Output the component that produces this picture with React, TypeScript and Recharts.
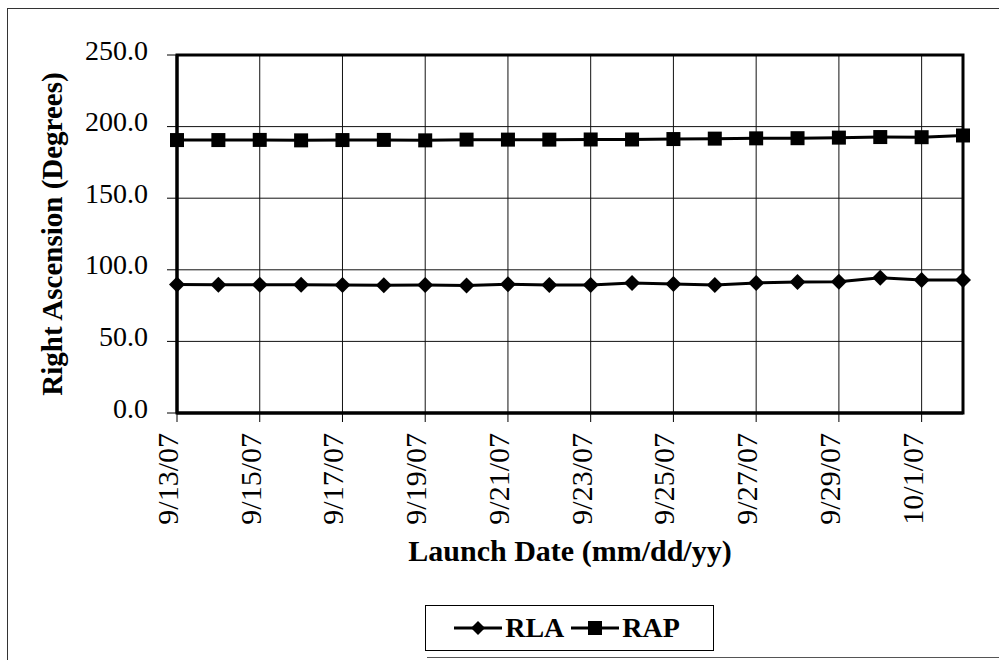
import { LineChart, Line, XAxis, YAxis, CartesianGrid, Legend, ReferenceArea } from "recharts";

const dates = [
  "9/13/07", "9/14/07", "9/15/07", "9/16/07", "9/17/07", "9/18/07", "9/19/07",
  "9/20/07", "9/21/07", "9/22/07", "9/23/07", "9/24/07", "9/25/07", "9/26/07",
  "9/27/07", "9/28/07", "9/29/07", "9/30/07", "10/1/07", "10/2/07",
];
const rla = [
  89.8, 89.5, 89.5, 89.6, 89.4, 89.2, 89.4, 89.0, 89.9, 89.4,
  89.4, 90.7, 90.0, 89.4, 90.8, 91.5, 91.7, 94.4, 92.8, 92.8,
];
const rap = [
  190.6, 190.6, 190.7, 190.4, 190.6, 190.7, 190.4, 190.9, 190.9, 190.9,
  191.0, 191.0, 191.3, 191.6, 191.8, 191.9, 192.3, 192.7, 192.6, 193.8,
];
const seriesOrder = ["RLA", "RAP"];
const labeledDates = dates.filter((_, i) => i % 2 === 0);
const yTicks = [0, 50, 100, 150, 200, 250];

const data = dates.map((d, i) => ({ date: d, RLA: rla[i], RAP: rap[i] }));

const FONT = "'Liberation Serif', 'Times New Roman', serif";

function Diamond(props: any) {
  const { cx, cy } = props;
  if (cx == null || cy == null) return null;
  const r = 8;
  return <path d={`M${cx},${cy - r}L${cx + r},${cy}L${cx},${cy + r}L${cx - r},${cy}Z`} fill="#000" />;
}

function Square(props: any) {
  const { cx, cy } = props;
  if (cx == null || cy == null) return null;
  const s = 14;
  return <rect x={cx - s / 2} y={cy - s / 2} width={s} height={s} fill="#000" />;
}

function XTick(props: any) {
  const { x, y, payload } = props;
  const ay = y + 9;
  return (
    <text x={x} y={ay} transform={`rotate(-90, ${x}, ${ay})`} textAnchor="end" dy={1}
      fontFamily={FONT} fontSize={30} fill="#000">
      {payload.value}
    </text>
  );
}

function YTick(props: any) {
  const { y, payload } = props;
  return (
    <text x={148} y={y - 5} textAnchor="end" dy="0.34em" fontFamily={FONT} fontSize={28} fill="#000">
      {Number(payload.value).toFixed(1)}
    </text>
  );
}

function YLabel() {
  return (
    <text x={62} y={234} transform="rotate(-90, 62, 234)" textAnchor="middle"
      fontFamily={FONT} fontSize={29} fontWeight="bold" fill="#000">
      Right Ascension (Degrees)
    </text>
  );
}

function XLabel() {
  return (
    <text x={570} y={561} textAnchor="middle" fontFamily={FONT} fontSize={30} fontWeight="bold" fill="#000">
      Launch Date (mm/dd/yy)
    </text>
  );
}

function LegendBox(props: any) {
  const items = [...(props.payload || [])].sort(
    (a: any, b: any) => seriesOrder.indexOf(a.value) - seriesOrder.indexOf(b.value)
  );
  return (
    <div style={{
      border: "1.5px solid #000", height: 46, width: 289, display: "flex",
      alignItems: "center", justifyContent: "center", boxSizing: "border-box",
      fontFamily: FONT, fontSize: 28, fontWeight: "bold", color: "#000",
    }}>
      {items.map((entry: any) => (
        <div key={entry.value} style={{ display: "flex", alignItems: "center", marginRight: 6 }}>
          <svg width={50} height={20}>
            <line x1={1} y1={10} x2={49} y2={10} stroke="#000" strokeWidth={3} />
            {entry.type === "diamond" ? (
              <path d="M25,3L32,10L25,17L18,10Z" fill="#000" />
            ) : (
              <rect x={18} y={3} width={14} height={14} fill="#000" />
            )}
          </svg>
          <span style={{ marginLeft: 2 }}>{entry.value}</span>
        </div>
      ))}
    </div>
  );
}

export default function App() {
  return (
    <div style={{ position: "absolute", left: 0, top: 0, width: 999, height: 660, background: "#fff" }}>
      <div style={{ position: "absolute", left: 7, top: 8, width: 1000, height: 700, borderLeft: "1.5px solid #333", borderTop: "1.5px solid #333" }} />
      <div style={{ position: "absolute", left: 427, top: 657, width: 580, borderTop: "1.5px solid #555" }} />
      <LineChart width={999} height={660} data={data}
        margin={{ top: 55, right: 36, left: 7, bottom: 97 }}>
        <CartesianGrid stroke="#111" strokeWidth={1} />
        <XAxis dataKey="date" ticks={labeledDates} interval={0} height={150}
          tick={<XTick />} tickSize={9} tickLine={{ stroke: "#000", strokeWidth: 1 }}
          axisLine={{ stroke: "#000", strokeWidth: 3 }} label={<XLabel />} />
        <YAxis domain={[0, 250]} ticks={yTicks} width={170} tick={<YTick />} tickSize={10}
          tickLine={{ stroke: "#000", strokeWidth: 1 }} axisLine={{ stroke: "#000", strokeWidth: 3 }}
          label={<YLabel />} />
        <ReferenceArea x1="9/13/07" x2="10/2/07" y1={0} y2={250} fill="none" fillOpacity={0}
          stroke="#000" strokeWidth={3} ifOverflow="visible" />
        <Line type="linear" dataKey="RLA" name="RLA" stroke="#000" strokeWidth={3}
          dot={<Diamond />} legendType="diamond" isAnimationActive={false} />
        <Line type="linear" dataKey="RAP" name="RAP" stroke="#000" strokeWidth={3}
          dot={<Square />} legendType="square" isAnimationActive={false} />
        <Legend layout="vertical" align="center" verticalAlign="middle" content={<LegendBox />}
          wrapperStyle={{ left: 425, top: 605, width: 290, height: 47 }} />
      </LineChart>
    </div>
  );
}
